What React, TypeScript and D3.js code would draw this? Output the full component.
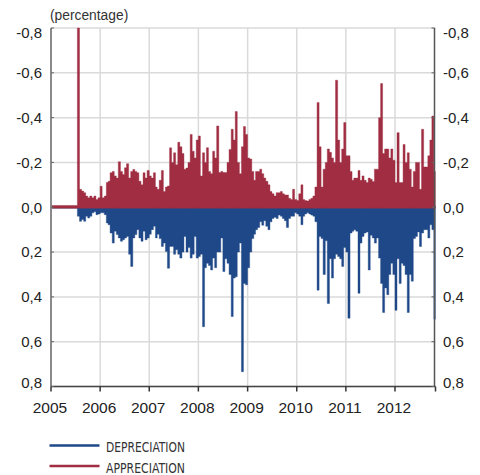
import React from "react";
import * as d3 from "d3";

// Tick labels
const yearLabels = ["2005", "2006", "2007", "2008", "2009", "2010", "2011", "2012"];
const yTickValues = [-0.8, -0.6, -0.4, -0.2, 0, 0.2, 0.4, 0.6, 0.8];
const seriesNames = ["DEPRECIATION", "APPRECIATION"];

// Half-monthly observations (1st and 16th of each month) starting 2005-01-01
// Appreciation (negative, plotted upward)
const appreciation = [
  // 2005
  -0.008, -0.008, -0.008, -0.008, -0.008, -0.008, -0.008, -0.008, -0.008, -0.008, -0.008, -0.008,
  -0.008, -0.8, -0.08, -0.072, -0.065, -0.05, -0.042, -0.05, -0.042, -0.05, -0.035, -0.042,
  // 2006
  -0.094, -0.042, -0.05, -0.11, -0.116, -0.154, -0.16, -0.14, -0.13, -0.203, -0.16, -0.146,
  -0.176, -0.194, -0.13, -0.16, -0.169, -0.16, -0.154, -0.116, -0.1, -0.154, -0.13, -0.164,
  // 2007
  -0.14, -0.13, -0.154, -0.09, -0.08, -0.12, -0.164, -0.07, -0.09, -0.095, -0.265, -0.2,
  -0.243, -0.19, -0.29, -0.27, -0.24, -0.17, -0.175, -0.2, -0.325, -0.25, -0.22, -0.3,
  // 2008
  -0.318, -0.14, -0.243, -0.2, -0.266, -0.16, -0.15, -0.25, -0.22, -0.363, -0.155, -0.16,
  -0.155, -0.155, -0.2, -0.258, -0.348, -0.3, -0.427, -0.2, -0.15, -0.27, -0.36, -0.325,
  // 2009
  -0.22, -0.215, -0.16, -0.12, -0.16, -0.16, -0.17, -0.15, -0.13, -0.116, -0.1, -0.07,
  -0.06, -0.05, -0.065, -0.065, -0.07, -0.06, -0.055, -0.055, -0.04, -0.035, -0.08, -0.035,
  // 2010
  -0.03, -0.06, -0.1, -0.035, -0.03, -0.028, -0.035, -0.04, -0.05, -0.09, -0.467, -0.27,
  -0.09, -0.17, -0.2, -0.26, -0.245, -0.22, -0.2, -0.567, -0.3, -0.2, -0.26, -0.378,
  // 2011
  -0.23, -0.23, -0.16, -0.12, -0.13, -0.13, -0.164, -0.12, -0.14, -0.12, -0.11, -0.13,
  -0.125, -0.115, -0.17, -0.17, -0.4, -0.552, -0.24, -0.26, -0.26, -0.22, -0.26, -0.21,
  // 2012
  -0.11, -0.333, -0.11, -0.11, -0.28, -0.2, -0.243, -0.17, -0.09, -0.16, -0.2, -0.2,
  -0.08, -0.348, -0.18, -0.18, -0.23, -0.3, -0.407, -0.16,
];

// Depreciation (positive, plotted downward)
const depreciation = [
  // 2005
  0, 0, 0, 0, 0, 0, 0, 0, 0, 0, 0, 0,
  0, 0.04, 0.063, 0.055, 0.063, 0.04, 0.048, 0.04, 0.025, 0.02, 0.033, 0.03,
  // 2006
  0.025, 0.025, 0.033, 0.07, 0.078, 0.115, 0.16, 0.107, 0.122, 0.137, 0.152, 0.145,
  0.137, 0.13, 0.21, 0.264, 0.137, 0.122, 0.1, 0.137, 0.152, 0.107, 0.145, 0.137,
  // 2007
  0.12, 0.1, 0.085, 0.137, 0.12, 0.14, 0.175, 0.16, 0.197, 0.272, 0.175, 0.175,
  0.21, 0.19, 0.21, 0.227, 0.2, 0.13, 0.2, 0.18, 0.227, 0.21, 0.13, 0.227,
  // 2008
  0.22, 0.21, 0.533, 0.27, 0.25, 0.26, 0.28, 0.227, 0.27, 0.2, 0.2, 0.137,
  0.287, 0.23, 0.25, 0.3, 0.488, 0.316, 0.31, 0.2, 0.16, 0.734, 0.34, 0.346,
  // 2009
  0.27, 0.2, 0.14, 0.12, 0.1, 0.09, 0.065, 0.08, 0.06, 0.085, 0.1, 0.065,
  0.05, 0.045, 0.05, 0.035, 0.04, 0.05, 0.06, 0.09, 0.05, 0.04, 0.04, 0.025,
  // 2010
  0.03, 0.04, 0.078, 0.04, 0.03, 0.025, 0.03, 0.035, 0.04, 0.065, 0.37, 0.13,
  0.14, 0.3, 0.15, 0.43, 0.23, 0.316, 0.23, 0.21, 0.22, 0.23, 0.264, 0.18,
  // 2011
  0.2, 0.495, 0.115, 0.107, 0.1, 0.107, 0.384, 0.16, 0.13, 0.115, 0.11, 0.28,
  0.125, 0.137, 0.16, 0.137, 0.227, 0.34, 0.47, 0.36, 0.39, 0.3, 0.25, 0.3,
  // 2012
  0.46, 0.23, 0.34, 0.25, 0.26, 0.3, 0.47, 0.3, 0.33, 0.14, 0.13, 0.11,
  0.175, 0.115, 0.1, 0.1, 0.137, 0.078, 0.1, 0.5,
];

const FIRST_YEAR = 2005;
const RED = "#a02d42";
const BLUE = "#1f4889";
const GRID = "#dadada";
const FONT = "'Liberation Sans', Arial, Helvetica, sans-serif";

const left = 51;
const right = 435.5;
const top = 28;
const bottom = 386.5;

function halfMonth(i: number): Date {
  const year = FIRST_YEAR + Math.floor(i / 24);
  const month = Math.floor((i % 24) / 2);
  return new Date(year, month, i % 2 ? 16 : 1);
}

function fmt(v: number): string {
  const s = Math.abs(v).toFixed(1).replace(".", ",");
  return v < 0 ? "-" + s : s;
}

export default function App() {
  const x = d3
    .scaleTime()
    .domain([new Date(2005, 0, 1), new Date(2012, 9, 28)])
    .range([left, right]);
  const y = d3.scaleLinear().domain([-0.8, 0.8]).range([top, bottom]);

  const yearDates = yearLabels.map((s) => new Date(+s, 0, 1));

  const minPx = 0.9;
  const toPoints = (vals: number[]) => {
    const pts = vals.map((v, i) => ({ d: halfMonth(i), v }));
    pts.push({ d: halfMonth(vals.length), v: vals[vals.length - 1] });
    return pts;
  };
  const areaFor = (sign: number) =>
    d3
      .area<{ d: Date; v: number }>()
      .curve(d3.curveStepAfter)
      .x((p) => x(p.d))
      .y0(() => y(0) - sign * minPx)
      .y1((p) => {
        const yy = y(p.v);
        const base = y(0);
        return sign > 0 ? Math.max(yy, base + minPx) : Math.min(yy, base - minPx);
      });

  const bluePath = areaFor(1)(toPoints(depreciation)) || "";
  const redPath = areaFor(-1)(toPoints(appreciation)) || "";

  return (
    <svg
      width={480}
      height={475}
      style={{ position: "absolute", left: 0, top: 0, background: "#fff" }}
      fontFamily={FONT}
    >
      <defs>
        <clipPath id="plotClip">
          <rect x={left} y={top - 2} width={right - left} height={bottom - top + 4} />
        </clipPath>
      </defs>

      {/* grid */}
      {yTickValues.map((v) => (
        <line key={"gy" + v} x1={left} x2={right} y1={y(v)} y2={y(v)} stroke={GRID} strokeWidth={1.5} />
      ))}
      {yearDates.slice(1).map((d, i) => (
        <line key={"gx" + i} x1={x(d)} x2={x(d)} y1={top} y2={bottom} stroke={GRID} strokeWidth={1.5} />
      ))}

      {/* series */}
      <g clipPath="url(#plotClip)">
        <path d={bluePath} fill={BLUE} stroke={BLUE} strokeWidth={0.4} />
        <path d={redPath} fill={RED} stroke={RED} strokeWidth={0.4} />
      </g>

      {/* axes */}
      <line x1={left} x2={left} y1={top} y2={bottom} stroke="#8a8a8a" strokeWidth={2} />
      <line x1={right - 1} x2={right - 1} y1={top} y2={bottom} stroke="#555" strokeWidth={1.5} />
      <line x1={left} x2={right} y1={bottom} y2={bottom} stroke="#444" strokeWidth={1.5} />
      {yTickValues.map((v) => (
        <g key={"yt" + v}>
          <line x1={left} x2={left + 3} y1={y(v)} y2={y(v)} stroke="#666" strokeWidth={1} />
          <line x1={right - 4} x2={right - 1} y1={y(v)} y2={y(v)} stroke="#666" strokeWidth={1} />
        </g>
      ))}
      {[...yearDates, new Date(2012, 9, 28)].map((d, i) => (
        <line key={"xt" + i} x1={x(d)} x2={x(d)} y1={bottom} y2={bottom + 5} stroke="#333" strokeWidth={1.5} />
      ))}

      {/* y labels */}
      {yTickValues.map((v, i) => {
        const shift = i === 0 ? 5 : i === yTickValues.length - 1 ? -3.5 : 0;
        return (
          <g key={"yl" + v} fontSize={15} fill="#222">
            <text x={42} y={y(v) + shift} dy="0.35em" textAnchor="end">
              {fmt(v)}
            </text>
            <text x={443} y={y(v) + shift} dy="0.35em" textAnchor="start">
              {fmt(v)}
            </text>
          </g>
        );
      })}

      {/* x labels */}
      {yearDates.map((d, i) => (
        <text key={"xl" + i} x={x(d) - 1} y={413} fontSize={15.5} textAnchor="middle" fill="#222">
          {yearLabels[i]}
        </text>
      ))}

      <text x={50} y={19.5} fontSize={13.8} fill="#333">
        (percentage)
      </text>

      {/* legend */}
      <line x1={49.5} x2={99.5} y1={445.5} y2={445.5} stroke={BLUE} strokeWidth={2.5} />
      <line x1={49.5} x2={99.5} y1={466} y2={466} stroke={RED} strokeWidth={2.5} />
      <text
        x={106}
        y={452}
        fontSize={14}
        fill="#333"
        fontFamily="'Liberation Sans Narrow', 'DejaVu Sans Condensed', Arial, sans-serif"
        textLength={79}
        lengthAdjust="spacingAndGlyphs"
      >
        {seriesNames[0]}
      </text>
      <text
        x={106}
        y={472.5}
        fontSize={14}
        fill="#333"
        fontFamily="'Liberation Sans Narrow', 'DejaVu Sans Condensed', Arial, sans-serif"
        textLength={79}
        lengthAdjust="spacingAndGlyphs"
      >
        {seriesNames[1]}
      </text>
    </svg>
  );
}
